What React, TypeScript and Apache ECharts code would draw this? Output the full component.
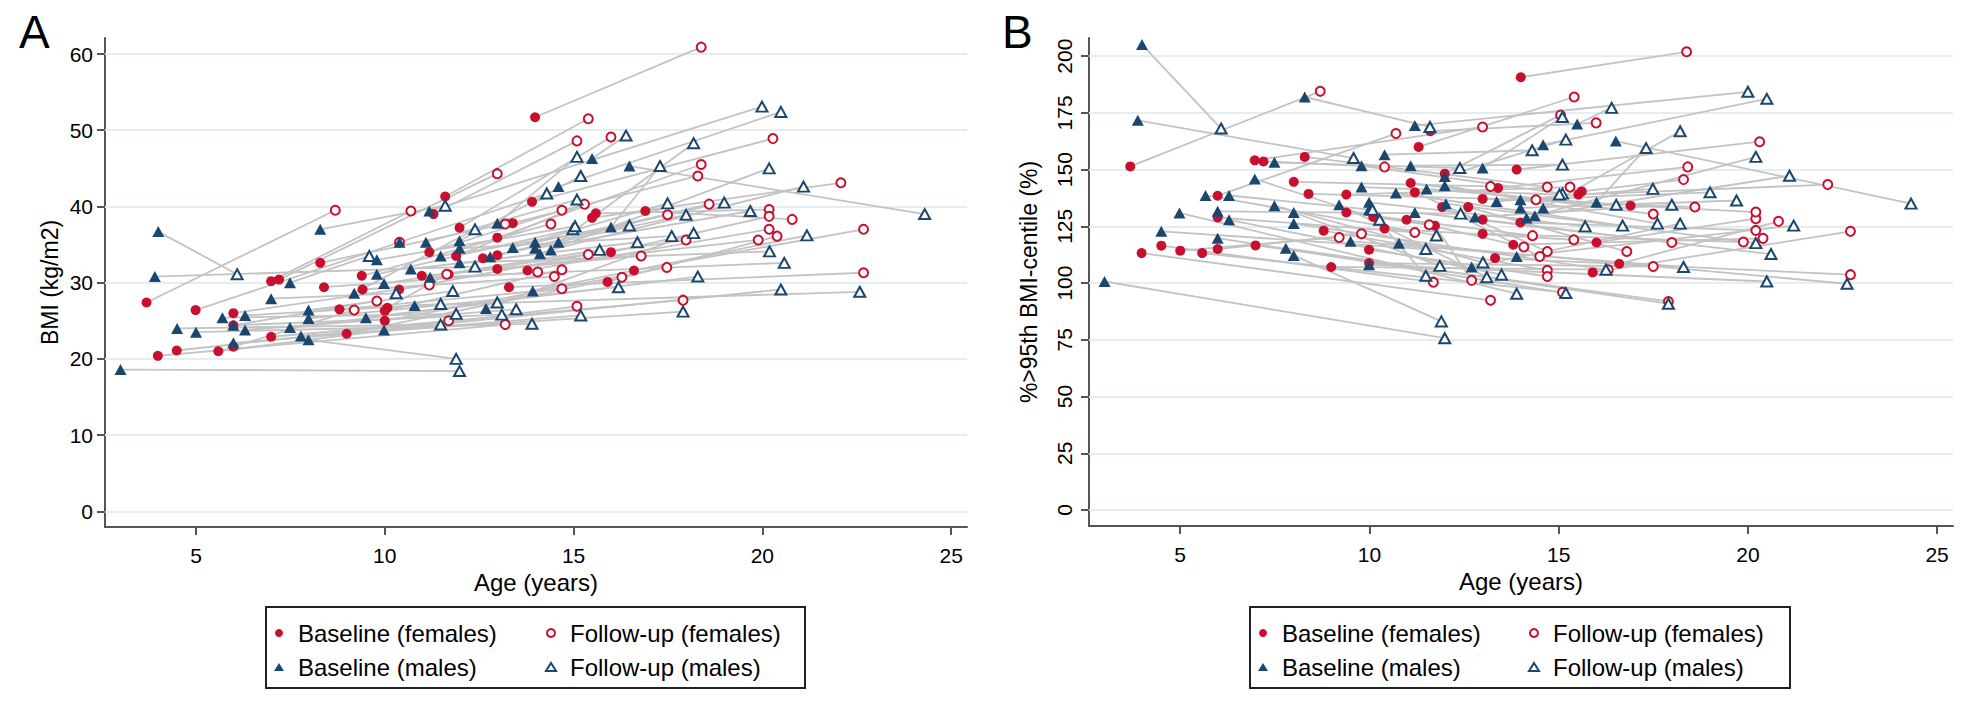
import React, { useEffect, useRef } from "react";
import * as echarts from "echarts";

// ---------- axis ticks & labels ----------
const xTicks = [5, 10, 15, 20, 25];
const bmiTicks = [0, 10, 20, 30, 40, 50, 60];
const pctTicks = [0, 25, 50, 75, 100, 125, 150, 175, 200];
const legendNames = ["Baseline (females)", "Follow-up (females)", "Baseline (males)", "Follow-up (males)"];

// ---------- Panel A: BMI (kg/m2); index i of baseline pairs with index i of follow-up ----------
const aFemBase = [
  [3.69, 27.4], [3.99, 20.4], [4.49, 21.1], [4.99, 26.4], [5.59, 21.0], [5.99, 26.0], [5.99, 21.6], [5.99, 24.4],
  [6.99, 22.9], [6.99, 30.2], [7.2, 30.4], [8.29, 32.6], [8.39, 29.4], [8.8, 26.5], [8.99, 23.3], [9.39, 30.9],
  [9.41, 29.1], [10.0, 26.3], [10.0, 25.0], [10.07, 26.7], [10.38, 29.1], [10.98, 30.9], [11.18, 34.0], [11.29, 39.0],
  [11.6, 41.3], [11.69, 31.1], [11.89, 33.5], [11.98, 37.2], [12.6, 33.2], [12.98, 35.9], [12.98, 33.6], [12.98, 31.8],
  [13.29, 29.4], [13.39, 37.8], [13.78, 31.6], [13.9, 40.6], [13.98, 51.7], [15.49, 38.5], [15.59, 39.1], [15.9, 30.1],
  [15.99, 34.0], [16.6, 31.6], [16.9, 39.4],
];
const aFemFollow = [
  [8.69, 39.5], [13.19, 24.5], [11.69, 25.0], [10.39, 35.3], [15.09, 26.9], [11.18, 29.7], [9.19, 26.4], [9.79, 27.6],
  [17.9, 27.7], [10.69, 39.4], [12.98, 44.3], [13.19, 37.7], [14.05, 31.4], [14.69, 29.2], [16.28, 30.7], [14.4, 37.7],
  [14.49, 30.8], [14.69, 31.7], [17.47, 32.0], [11.64, 31.1], [15.39, 33.7], [16.79, 33.5], [14.69, 39.5], [15.09, 48.6],
  [15.39, 51.5], [17.98, 35.6], [15.29, 40.3], [15.99, 49.1], [17.49, 38.9], [18.38, 45.5], [18.59, 40.3], [19.89, 35.6],
  [22.68, 31.3], [18.29, 44.0], [20.18, 37.0], [20.28, 48.9], [18.38, 60.9], [22.08, 43.1], [20.18, 39.6], [20.39, 36.1],
  [20.18, 38.7], [22.68, 37.0], [20.79, 38.3],
];
const aMalBase = [
  [3.0, 18.6], [3.91, 30.8], [4.0, 36.7], [4.5, 24.0], [5.0, 23.5], [5.7, 25.4], [5.99, 24.4], [5.99, 22.1],
  [6.3, 25.7], [6.3, 23.8], [6.99, 27.9], [7.49, 30.0], [7.49, 24.1], [7.78, 23.0], [7.98, 22.5], [7.98, 26.4],
  [7.98, 25.3], [8.29, 37.0], [9.19, 28.6], [9.5, 25.4], [9.79, 31.1], [9.79, 33.0], [9.98, 29.9], [9.98, 23.8],
  [10.39, 35.3], [10.69, 31.8], [10.79, 27.0], [11.09, 35.3], [11.18, 39.4], [11.2, 30.7], [11.48, 33.5], [11.98, 35.5],
  [11.98, 34.5], [11.98, 32.6], [12.68, 26.6], [12.79, 33.4], [12.98, 37.8], [13.39, 34.6], [13.92, 28.9], [13.98, 35.3],
  [13.98, 34.5], [14.11, 33.8], [14.4, 34.3], [14.6, 35.3], [14.6, 42.6], [15.49, 46.3], [15.99, 37.3], [16.48, 45.3],
];
const aMalFollow = [
  [11.98, 18.4], [12.39, 32.1], [6.09, 31.1], [11.48, 24.5], [13.9, 24.6], [11.89, 25.9], [13.1, 25.8], [15.19, 25.7],
  [11.48, 27.2], [13.48, 26.5], [10.3, 28.6], [9.59, 33.5], [12.98, 27.4], [17.9, 26.2], [11.89, 20.0], [11.8, 28.9],
  [16.19, 29.4], [11.6, 40.1], [12.39, 37.0], [18.29, 30.8], [14.98, 37.0], [15.04, 37.4], [15.69, 34.3], [20.49, 29.1],
  [14.29, 41.7], [16.69, 35.3], [22.58, 28.8], [15.09, 40.9], [19.99, 53.1], [20.58, 32.6], [16.48, 37.5], [15.19, 44.0],
  [17.6, 36.1], [20.19, 34.1], [18.18, 36.5], [17.98, 38.9], [15.09, 46.5], [17.49, 40.4], [21.18, 36.2], [18.99, 40.5],
  [19.68, 39.4], [20.18, 45.0], [21.09, 42.6], [18.18, 48.3], [20.49, 52.4], [16.39, 49.3], [17.29, 45.3], [24.3, 39.0],
];

// ---------- Panel B: %>95th BMI-centile (%) ----------
const bFemBase = [
  [3.68, 151.4], [3.98, 113.2], [4.5, 116.5], [5.0, 114.3], [5.58, 113.2], [5.99, 138.5], [5.99, 128.9], [5.99, 115.0],
  [6.97, 154.1], [7.2, 153.6], [6.99, 116.6], [8.0, 144.6], [8.29, 155.6], [8.39, 139.3], [8.79, 123.1], [8.99, 107.1],
  [9.39, 139.0], [9.39, 131.1], [9.99, 114.7], [9.99, 108.8], [10.1, 129.1], [10.4, 124.0], [11.09, 144.1], [10.98, 127.9],
  [11.2, 140.0], [11.3, 160.0], [11.61, 166.9], [11.73, 125.3], [11.92, 133.5], [11.99, 148.2], [12.61, 133.5], [12.99, 137.1],
  [12.99, 127.9], [12.99, 121.7], [13.32, 111.0], [13.4, 141.9], [13.8, 116.9], [13.89, 150.0], [13.99, 126.7], [14.0, 190.7],
  [15.52, 139.0], [15.61, 140.4], [15.9, 104.7], [16.0, 117.9], [16.6, 108.5], [16.9, 134.1],
];
const bFemFollow = [
  [8.7, 184.5], [13.2, 92.4], [11.69, 100.4], [9.2, 120.1], [15.1, 95.9], [10.7, 165.9], [11.2, 122.3], [9.79, 121.7],
  [12.99, 168.8], [10.4, 151.2], [17.9, 91.9], [13.2, 142.6], [14.7, 142.3], [14.4, 136.7], [14.7, 105.6], [16.31, 105.9],
  [15.3, 142.3], [14.31, 120.9], [14.7, 102.9], [17.5, 107.3], [11.58, 125.7], [15.4, 119.1], [17.5, 130.4], [14.08, 115.9],
  [14.7, 113.9], [15.41, 182.0], [15.99, 170.6], [12.7, 101.2], [14.5, 111.7], [15.05, 174.0], [16.8, 113.9], [18.6, 133.5],
  [17.99, 117.9], [19.88, 118.1], [22.71, 103.7], [18.41, 151.2], [20.4, 119.7], [20.31, 162.3], [20.21, 123.2], [18.38, 201.9],
  [22.11, 143.4], [18.3, 145.6], [22.71, 122.8], [20.21, 128.4], [20.81, 127.2], [20.21, 131.3],
];
const bMalBase = [
  [3.0, 100.7], [3.88, 171.7], [3.99, 205.1], [4.5, 122.8], [4.98, 130.9], [5.67, 138.6], [5.99, 131.6], [5.99, 119.8],
  [6.29, 138.6], [6.29, 127.9], [6.97, 145.9], [7.49, 153.2], [7.49, 134.1], [7.79, 115.4], [8.0, 112.2], [8.0, 131.1],
  [8.0, 126.2], [8.29, 182.0], [9.2, 134.5], [9.5, 118.4], [9.79, 151.7], [9.79, 142.3], [9.99, 135.6], [9.99, 132.3],
  [9.99, 108.1], [10.4, 156.6], [10.7, 139.7], [10.78, 117.6], [11.09, 151.7], [11.2, 169.4], [11.2, 131.1], [11.51, 141.5],
  [11.99, 147.0], [11.99, 142.9], [12.02, 135.0], [12.7, 107.1], [12.79, 129.1], [12.99, 150.7], [13.36, 136.0], [13.89, 111.7],
  [13.99, 136.7], [13.99, 133.1], [14.15, 128.7], [14.37, 129.7], [14.59, 133.1], [14.59, 161.0], [15.49, 170.1], [16.0, 135.6],
  [16.51, 162.6],
];
const bMalFollow = [
  [11.99, 75.7], [9.58, 155.1], [6.08, 168.1], [11.49, 115.0], [13.89, 95.3], [11.77, 121.0], [12.41, 130.6], [15.19, 95.6],
  [10.08, 132.3], [13.49, 103.7], [10.27, 127.9], [12.39, 150.7], [13.0, 109.1], [17.9, 90.9], [11.9, 83.1], [11.86, 107.6],
  [16.25, 105.9], [11.6, 168.8], [13.1, 102.6], [18.3, 107.1], [15.1, 139.4], [15.02, 139.0], [15.7, 125.0], [11.49, 103.2],
  [20.5, 100.7], [14.3, 158.5], [16.69, 125.3], [22.62, 99.7], [15.1, 152.2], [20.0, 184.3], [20.61, 112.8], [16.52, 134.5],
  [15.19, 163.2], [17.61, 126.2], [20.21, 117.6], [18.21, 126.2], [17.99, 134.5], [15.1, 173.2], [17.49, 141.5], [21.21, 125.3],
  [19.0, 140.0], [19.7, 136.4], [20.21, 155.6], [21.1, 147.3], [18.21, 166.9], [20.5, 181.2], [16.4, 177.2], [17.31, 159.5],
  [24.31, 135.0],
];

const RED = "#c8102e";
const NAVY = "#1a476f";
const FONT = "Liberation Sans, Arial, sans-serif";
const GRID_COLOR = "#e4edf0";
const AXIS_COLOR = "#555";

function pairLines(base: number[][], fu: number[][]) {
  return base.map((b, i) => ({ coords: [b, fu[i]] }));
}

function panelSeries(idx: number, fb: number[][], ff: number[][], mb: number[][], mf: number[][], ticks: number[]) {
  return [
    {
      type: "lines",
      name: "pairs" + idx,
      coordinateSystem: "cartesian2d",
      xAxisIndex: idx,
      yAxisIndex: idx,
      silent: true,
      z: 2,
      data: [...pairLines(fb, ff), ...pairLines(mb, mf)],
      lineStyle: { color: "#c3c3c3", width: 1.8, opacity: 1, curveness: 0 },
    },
    {
      type: "scatter",
      name: legendNames[0],
      xAxisIndex: idx,
      yAxisIndex: idx,
      silent: true,
      z: 3,
      data: fb,
      symbol: "circle",
      symbolSize: 10,
      itemStyle: { color: RED, opacity: 1 },
      markLine: {
        silent: true,
        z: 1,
        symbol: ["none", "none"],
        label: { show: false },
        lineStyle: { color: GRID_COLOR, width: 2, type: "solid" },
        data: ticks.map((v) => ({ yAxis: v })),
      },
    },
    {
      type: "scatter",
      name: legendNames[1],
      xAxisIndex: idx,
      yAxisIndex: idx,
      silent: true,
      z: 3,
      data: ff,
      symbol: "circle",
      symbolSize: 9,
      itemStyle: { color: "#fff", borderColor: RED, borderWidth: 2, opacity: 1 },
    },
    {
      type: "scatter",
      name: legendNames[2],
      xAxisIndex: idx,
      yAxisIndex: idx,
      silent: true,
      z: 3,
      data: mb,
      symbol: "triangle",
      symbolSize: [12, 11],
      itemStyle: { color: NAVY, opacity: 1 },
    },
    {
      type: "scatter",
      name: legendNames[3],
      xAxisIndex: idx,
      yAxisIndex: idx,
      silent: true,
      z: 3,
      data: mf,
      symbol: "triangle",
      symbolSize: [11, 10],
      itemStyle: { color: "#fff", borderColor: NAVY, borderWidth: 2, opacity: 1 },
    },
  ];
}

function xAxisCfg(gridIndex: number) {
  return {
    gridIndex,
    type: "value",
    min: 2.59,
    max: 25.42,
    name: "Age (years)",
    nameLocation: "middle",
    nameGap: 43,
    nameTextStyle: { fontSize: 24, color: "#000", fontFamily: FONT },
    axisLine: { show: true, onZero: false, lineStyle: { color: AXIS_COLOR, width: 2 } },
    axisTick: { show: true, length: 8, customValues: xTicks, lineStyle: { color: AXIS_COLOR, width: 2 } },
    axisLabel: { customValues: xTicks, fontSize: 21, color: "#000", margin: 18, fontFamily: FONT },
    splitLine: { show: false },
  };
}

// one legend per column: [Baseline (females), Baseline (males)] and [Follow-up (females), Follow-up (males)]
function legendCol(left: number, names: string[]) {
  return {
    data: names,
    left,
    top: 620,
    orient: "vertical",
    itemWidth: 10,
    itemHeight: 8,
    itemGap: 8,
    padding: 0,
    selectedMode: false,
    textStyle: { fontSize: 24, color: "#000", lineHeight: 26, padding: [0, 0, 0, 9], fontFamily: FONT },
  };
}

export default function App() {
  const ref = useRef<HTMLDivElement>(null);
  useEffect(() => {
    if (!ref.current) return;
    const chart = echarts.init(ref.current, null, { renderer: "svg" });
    chart.setOption({
      animation: false,
      backgroundColor: "#fff",
      textStyle: { fontFamily: FONT },
      grid: [
        { left: 105, top: 38, width: 862, height: 489 },
        { left: 1089, top: 38, width: 864, height: 488 },
      ],
      xAxis: [xAxisCfg(0), xAxisCfg(1)],
      yAxis: [
        {
          gridIndex: 0,
          type: "value",
          min: -2.06,
          max: 62.1,
          name: "BMI (kg/m2)",
          nameLocation: "middle",
          nameGap: 44,
          nameTextStyle: { fontSize: 23, color: "#000", fontFamily: FONT },
          axisLine: { show: true, onZero: false, lineStyle: { color: AXIS_COLOR, width: 2 } },
          axisTick: { show: true, length: 8, customValues: bmiTicks, lineStyle: { color: AXIS_COLOR, width: 2 } },
          axisLabel: { customValues: bmiTicks, fontSize: 21, color: "#000", margin: 12, fontFamily: FONT },
          splitLine: { show: false },
        },
        {
          gridIndex: 1,
          type: "value",
          min: -7.05,
          max: 208,
          name: "%>95th BMI-centile (%)",
          nameLocation: "middle",
          nameGap: 49,
          nameTextStyle: { fontSize: 23, color: "#000", fontFamily: FONT },
          axisLine: { show: true, onZero: false, lineStyle: { color: AXIS_COLOR, width: 2 } },
          axisTick: { show: true, length: 8, customValues: pctTicks, lineStyle: { color: AXIS_COLOR, width: 2 } },
          axisLabel: { customValues: pctTicks, rotate: 90, fontSize: 21, color: "#000", margin: 14, fontFamily: FONT },
          splitLine: { show: false },
        },
      ],
      legend: [
        legendCol(274, [legendNames[0], legendNames[2]]),
        legendCol(545, [legendNames[1], legendNames[3]]),
        legendCol(1258, [legendNames[0], legendNames[2]]),
        legendCol(1528, [legendNames[1], legendNames[3]]),
      ],
      graphic: [
        { type: "text", left: 19, top: 9, style: { text: "A", fontSize: 46, fill: "#000", fontFamily: FONT } },
        { type: "text", left: 1002, top: 9, style: { text: "B", fontSize: 46, fill: "#000", fontFamily: FONT } },
        {
          type: "rect",
          shape: { x: 266, y: 607, width: 539, height: 81 },
          style: { fill: "none", stroke: "#222", lineWidth: 2 },
          silent: true,
        },
        {
          type: "rect",
          shape: { x: 1250, y: 607, width: 540, height: 81 },
          style: { fill: "none", stroke: "#222", lineWidth: 2 },
          silent: true,
        },
      ],
      series: [
        ...panelSeries(0, aFemBase, aFemFollow, aMalBase, aMalFollow, bmiTicks),
        ...panelSeries(1, bFemBase, bFemFollow, bMalBase, bMalFollow, pctTicks),
      ],
    });
    return () => chart.dispose();
  }, []);
  return (
    <div
      ref={ref}
      style={{ position: "absolute", left: 0, top: 0, width: 1977, height: 718, background: "#fff" }}
    />
  );
}
